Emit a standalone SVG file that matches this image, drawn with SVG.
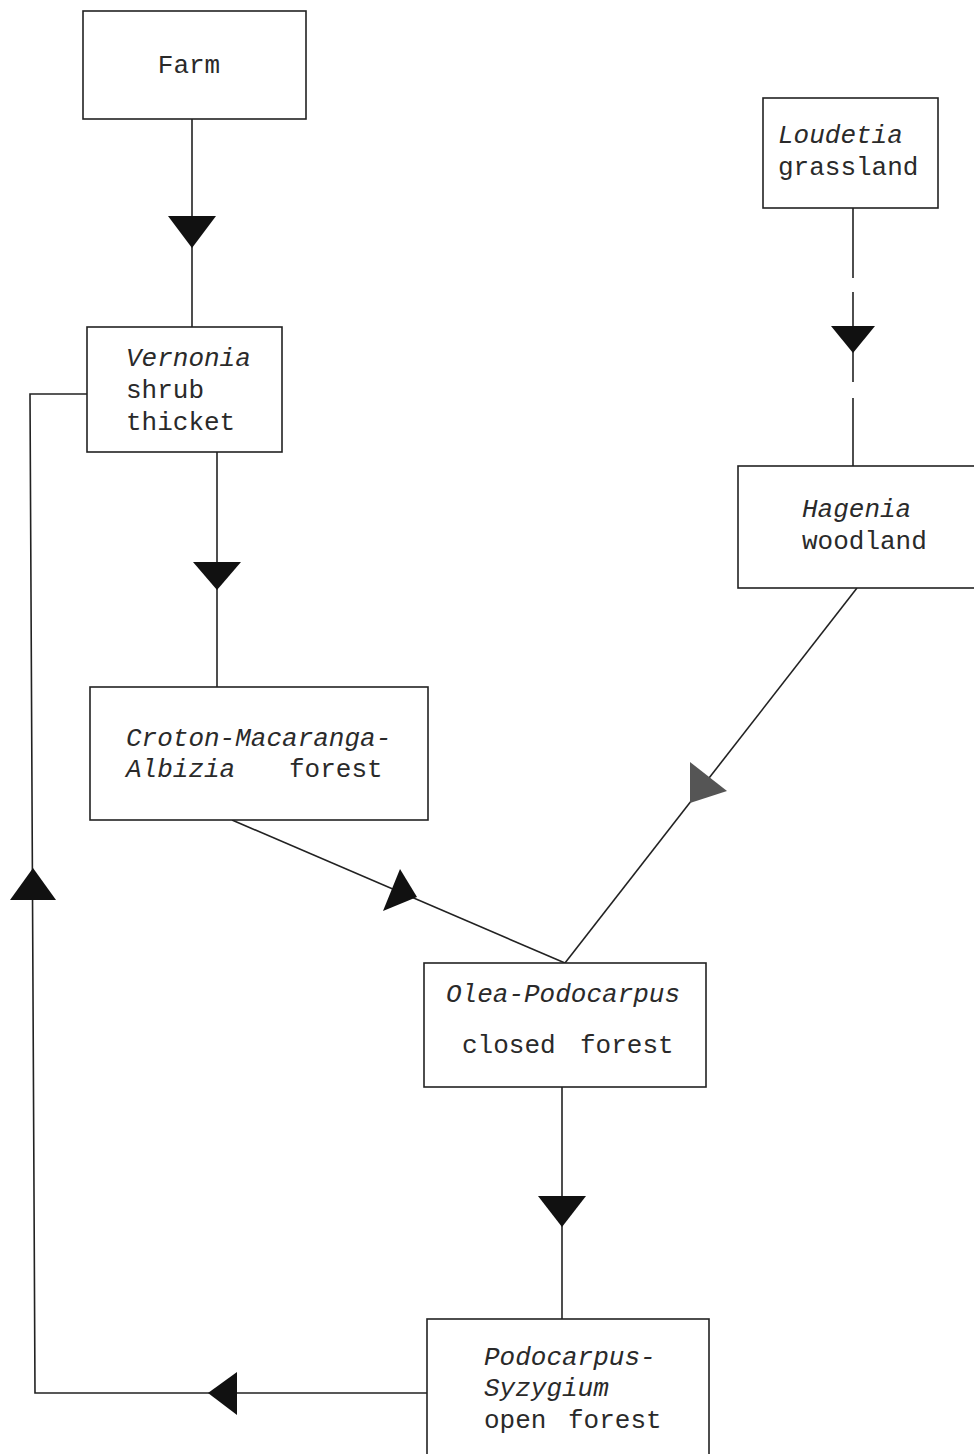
<svg xmlns="http://www.w3.org/2000/svg" width="974" height="1454" viewBox="0 0 974 1454">
<style>
.box{fill:#fff;stroke:#222;stroke-width:1.6}
.t{font-family:"Liberation Mono","Courier New",monospace;font-size:26px;fill:#2a2a2a}
.i{font-style:italic}
.c{fill:none;stroke:#222;stroke-width:1.6}
.ah{fill:#111}
</style>
<rect width="974" height="1454" fill="#fff"/>
<g id="connectors">
<line class="c" x1="192" y1="119" x2="192" y2="327"/>
<polygon class="ah" points="168,216 216,216 192,248"/>
<line class="c" x1="217" y1="452" x2="217" y2="687"/>
<polygon class="ah" points="193,562 241,562 217,590"/>
<line class="c" x1="232" y1="820" x2="565" y2="963"/>
<polygon class="ah" points="400,869 383,911 417,897"/>
<line class="c" x1="853" y1="208" x2="853" y2="466" stroke-dasharray="70,14,90,16,70"/>
<polygon class="ah" points="831,326 875,326 853,353"/>
<line class="c" x1="857" y1="588" x2="565" y2="963"/>
<polygon points="690,762 690,803 727,791" fill="#555"/>
<line class="c" x1="562" y1="1087" x2="562" y2="1319"/>
<polygon class="ah" points="538,1196 586,1196 562,1227"/>
<polyline class="c" points="427,1393 35,1393 30,394 87,394"/>
<polygon class="ah" points="237,1372 237,1415 208,1393"/>
<polygon class="ah" points="33,868 10,900 56,900"/>
</g>
<g id="farm">
<rect class="box" x="83" y="11" width="223" height="108"/>
<text class="t" x="189" y="73" text-anchor="middle">Farm</text>
</g>
<g id="vernonia">
<rect class="box" x="87" y="327" width="195" height="125"/>
<text class="t i" x="126" y="366">Vernonia</text>
<text class="t" x="126" y="398">shrub</text>
<text class="t" x="126" y="430">thicket</text>
</g>
<g id="croton">
<rect class="box" x="90" y="687" width="338" height="133"/>
<text class="t i" x="126" y="746">Croton-Macaranga-</text>
<text class="t" y="777"><tspan class="i" x="126">Albizia</tspan><tspan x="289">forest</tspan></text>
</g>
<g id="loudetia">
<rect class="box" x="763" y="98" width="175" height="110"/>
<text class="t i" x="778" y="143">Loudetia</text>
<text class="t" x="778" y="175">grassland</text>
</g>
<g id="hagenia">
<rect class="box" x="738" y="466" width="240" height="122"/>
<text class="t i" x="802" y="517">Hagenia</text>
<text class="t" x="802" y="549">woodland</text>
</g>
<g id="olea">
<rect class="box" x="424" y="963" width="282" height="124"/>
<text class="t i" x="446" y="1002">Olea-Podocarpus</text>
<text class="t" y="1053"><tspan x="462">closed</tspan><tspan x="580">forest</tspan></text>
</g>
<g id="podocarpus">
<rect class="box" x="427" y="1319" width="282" height="140"/>
<text class="t i" x="484" y="1365">Podocarpus-</text>
<text class="t i" x="484" y="1396">Syzygium</text>
<text class="t" y="1428"><tspan x="484">open</tspan><tspan x="568">forest</tspan></text>
</g>
</svg>
